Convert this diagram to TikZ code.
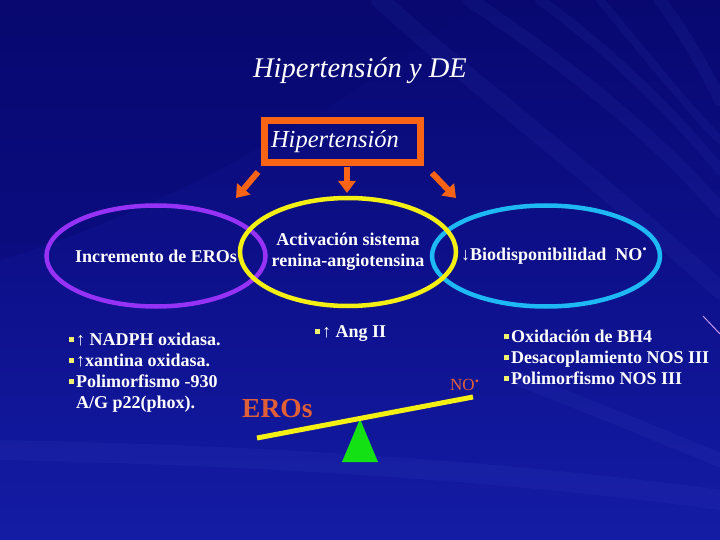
\documentclass[tikz,border=0pt]{standalone}
\usepackage{fontspec}
\setmainfont{Liberation Serif}
\usetikzlibrary{shapes.geometric,arrows.meta}
\definecolor{bgtop}{RGB}{8,8,112}
\definecolor{bgbot}{RGB}{20,28,165}
\definecolor{streak}{RGB}{90,110,235}
\definecolor{orangec}{RGB}{250,100,20}
\definecolor{erosc}{RGB}{225,95,55}
\definecolor{purplec}{RGB}{150,50,245}
\definecolor{yellowc}{RGB}{245,240,20}
\definecolor{cyanc}{RGB}{30,185,245}
\definecolor{greenc}{RGB}{20,225,20}
\definecolor{bulyel}{RGB}{240,240,110}
\newcommand{\bul}{{\color{bulyel}\rule[3pt]{5pt}{5pt}}\hspace{2pt}}
\begin{document}
\begin{tikzpicture}[x=1pt,y=-1pt,
  lbl/.style={text=white, font=\bfseries\fontsize{18}{21}\selectfont, inner sep=0pt},
  listline/.style={lbl, anchor=base west},
  oval/.style={ellipse, draw, line width=4.5pt, inner sep=0pt},
  harrow/.style={draw=orangec, line width=6pt, -{Triangle[width=17pt,length=12pt]}},
  bgstreak/.style={draw=streak, opacity=0.07, line cap=round}]
\useasboundingbox (0,0) rectangle (720,540);
% background
\shade[top color=bgtop, bottom color=bgbot, middle color={rgb,255:red,13;green,16;blue,138}] (0,0) rectangle (720,540);
\fill[bgtop, opacity=0.35] (0,0) -- (480,0) .. controls (380,80) and (200,200) .. (0,260) -- cycle;
\draw[bgstreak, line width=14pt] (470,0) .. controls (560,60) and (650,130) .. (720,210);
\draw[bgstreak, line width=10pt] (540,0) .. controls (610,50) and (680,120) .. (720,170);
\draw[bgstreak, line width=8pt] (600,0) .. controls (650,60) and (690,110) .. (720,140);
\draw[bgstreak, line width=12pt] (660,0) .. controls (690,40) and (710,80) .. (720,100);
\draw[bgstreak, line width=18pt] (380,0) .. controls (480,90) and (600,180) .. (720,290);
\draw[bgstreak, line width=20pt] (0,450) .. controls (250,455) and (500,470) .. (720,500);
\draw[bgstreak, line width=14pt] (520,380) .. controls (600,410) and (670,440) .. (720,460);
\draw[color={rgb,255:red,200;green,150;blue,235}, line width=1pt] (703,316) -- (720,334);
% title
\node[text=white, font=\itshape\fontsize{28.5}{32}\selectfont, inner sep=0pt, anchor=base] (title) at (360,78) {Hipertensión y DE};
% box
\node[draw=orangec, line width=7pt, minimum width=156pt, minimum height=42pt, text width=143pt, inner xsep=6.5pt, inner ysep=0pt, align=left, text=white, font=\itshape\fontsize{24.5}{28}\selectfont] (htn) at (342.5,141.5) {Hipertensión};
% arrows
\coordinate (a1s) at (258,172); \coordinate (a1e) at (236,198);
\coordinate (a2s) at (347,167); \coordinate (a2e) at (347,193);
\coordinate (a3s) at (432,173); \coordinate (a3e) at (456,198);
\draw[harrow] (a1s) -- (a1e);
\draw[harrow] (a2s) -- (a2e);
\draw[harrow] (a3s) -- (a3e);
% ellipses
\node[oval, draw=purplec, minimum width=219pt, minimum height=101pt] (ovp) at (156,256) {};
\node[oval, draw=cyanc, minimum width=228pt, minimum height=101pt] (ovc) at (546,256) {};
\node[oval, draw=yellowc, minimum width=216pt, minimum height=108pt] (ovy) at (348,252) {};
\node[lbl, anchor=base] (tp) at (156,262) {Incremento de EROs};
\node[lbl, align=center, anchor=base] (ty) at (348,266) {Activación sistema\\renina-angiotensina};
\node[lbl, anchor=base west] (tc) at (461,260) {↓Biodisponibilidad\ \ NO\raisebox{0.55em}{.}};
% left list
\node[listline] (l1) at (69,345) {\bul↑ NADPH oxidasa.};
\node[listline] (l2) at (69,366) {\bul↑xantina oxidasa.};
\node[listline] (l3) at (69,387) {\bul Polimorfismo -930};
\node[listline] (l4) at (69,408) {\hphantom{\bul}A/G p22(phox).};
% middle
\node[listline] (m1) at (315,337) {\bul↑ Ang II};
% right list
\node[listline] (r1) at (504,342) {\bul Oxidación de BH4};
\node[listline] (r2) at (504,363) {\bul Desacoplamiento NOS III};
\node[listline] (r3) at (504,384) {\bul Polimorfismo NOS III};
% balance
\node[text=erosc, font=\bfseries\fontsize{27.5}{30}\selectfont, inner sep=0pt, anchor=base west] (eros) at (242,417) {EROs};
\node[text=erosc, font=\fontsize{17}{20}\selectfont, inner sep=0pt, anchor=base west] (no) at (450,390) {NO\raisebox{0.45em}{\bfseries .}};
\coordinate (bl) at (257,438); \coordinate (br) at (473,397);
\coordinate (tA) at (360,419); \coordinate (tL) at (342,462); \coordinate (tR) at (378,462);
\fill[greenc] (tA) -- (tR) -- (tL) -- cycle;
\draw[yellowc, line width=5pt] (bl) -- (br);
\end{tikzpicture}
\end{document}
